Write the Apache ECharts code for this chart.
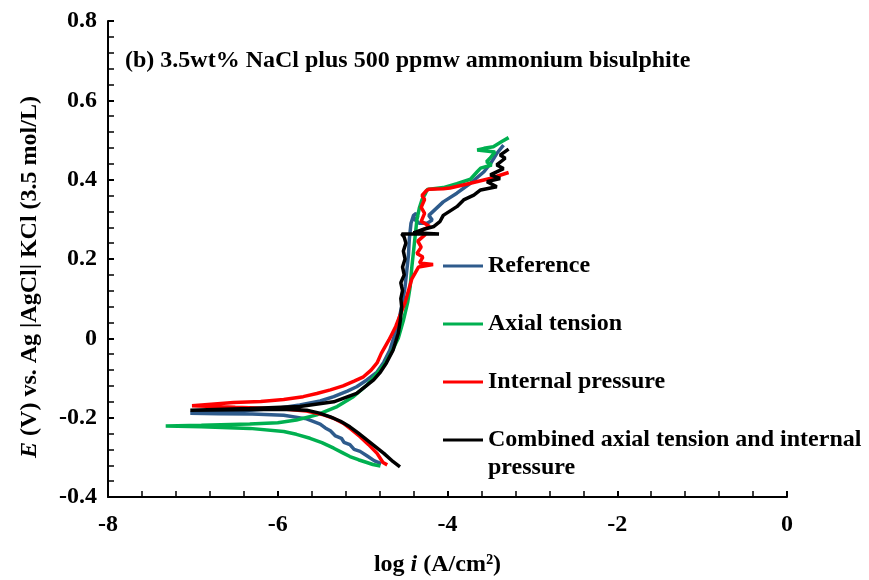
<!DOCTYPE html>
<html>
<head>
<meta charset="utf-8">
<title>Polarization curves</title>
<script src="https://cdn.jsdelivr.net/npm/echarts@6/dist/echarts.min.js"></script>
<style>
  html, body { margin: 0; padding: 0; background: #fff; }
  #chart { width: 869px; height: 580px; }
</style>
</head>
<body>
<div id="chart"></div>
<script>
// axis ranges
const xRange = [-8, 0];
const yRange = [-0.4, 0.8];

// series names as in the legend
const seriesNames = ['Reference', 'Axial tension', 'Internal pressure', 'Combined axial tension and internal pressure'];

// [log i, E]: cathodic end -> Ecorr -> anodic end
const referenceCurve = [
  [-4.78, -0.316], [-4.86, -0.309], [-4.95, -0.296], [-5.03, -0.285], [-5.10, -0.280], [-5.15, -0.268],
  [-5.22, -0.262], [-5.25, -0.252], [-5.32, -0.246], [-5.38, -0.233], [-5.44, -0.226], [-5.50, -0.216],
  [-5.66, -0.203], [-5.93, -0.194], [-6.30, -0.191], [-6.70, -0.190], [-7.03, -0.189],
  [-7.03, -0.187], [-6.70, -0.185], [-6.33, -0.181], [-6.00, -0.176], [-5.74, -0.168], [-5.50, -0.158],
  [-5.34, -0.147], [-5.18, -0.133], [-5.07, -0.122], [-4.95, -0.105], [-4.83, -0.085], [-4.75, -0.060],
  [-4.68, -0.030], [-4.62, 0.010], [-4.57, 0.050], [-4.53, 0.090], [-4.50, 0.130], [-4.48, 0.170],
  [-4.46, 0.210], [-4.45, 0.250], [-4.43, 0.290], [-4.40, 0.310], [-4.37, 0.315], [-4.35, 0.305],
  [-4.39, 0.300], [-4.33, 0.290], [-4.24, 0.290], [-4.18, 0.298], [-4.22, 0.310], [-4.16, 0.322],
  [-4.05, 0.344], [-3.89, 0.366], [-3.73, 0.391], [-3.57, 0.420], [-3.48, 0.445], [-3.42, 0.466], [-3.34, 0.487]
];

const axialCurve = [
  [-4.79, -0.322], [-4.88, -0.318], [-4.95, -0.313], [-5.05, -0.306], [-5.15, -0.298], [-5.24, -0.288],
  [-5.34, -0.277], [-5.48, -0.263], [-5.62, -0.252], [-5.78, -0.242], [-5.93, -0.235], [-6.33, -0.227],
  [-6.90, -0.223], [-7.32, -0.221],
  [-7.32, -0.220], [-6.90, -0.219], [-6.33, -0.216], [-6.00, -0.213], [-5.78, -0.206], [-5.54, -0.193],
  [-5.30, -0.172], [-5.11, -0.147], [-4.95, -0.118], [-4.84, -0.090], [-4.74, -0.065], [-4.66, -0.035],
  [-4.58, 0.000], [-4.52, 0.045], [-4.47, 0.090], [-4.44, 0.130], [-4.42, 0.180], [-4.40, 0.220],
  [-4.38, 0.260], [-4.36, 0.300], [-4.33, 0.330], [-4.30, 0.350], [-4.26, 0.365], [-4.24, 0.375],
  [-4.05, 0.380], [-3.89, 0.390], [-3.73, 0.401], [-3.65, 0.420], [-3.61, 0.429], [-3.48, 0.437],
  [-3.54, 0.445], [-3.50, 0.454], [-3.44, 0.470], [-3.65, 0.475], [-3.57, 0.479], [-3.46, 0.483],
  [-3.36, 0.496], [-3.28, 0.506]
];

const internalCurve = [
  [-4.71, -0.319], [-4.76, -0.313], [-4.83, -0.290], [-4.93, -0.268], [-5.03, -0.248], [-5.13, -0.230],
  [-5.23, -0.214], [-5.35, -0.201], [-5.46, -0.193], [-5.66, -0.183], [-5.93, -0.178], [-6.50, -0.174],
  [-7.01, -0.170],
  [-7.01, -0.166], [-6.52, -0.162], [-6.20, -0.159], [-5.93, -0.154], [-5.70, -0.147], [-5.54, -0.139],
  [-5.38, -0.130], [-5.23, -0.120], [-5.10, -0.108], [-4.99, -0.097], [-4.90, -0.080], [-4.83, -0.062],
  [-4.78, -0.038], [-4.69, -0.004], [-4.61, 0.030], [-4.55, 0.063], [-4.50, 0.090], [-4.46, 0.120],
  [-4.42, 0.150], [-4.38, 0.165], [-4.34, 0.180], [-4.17, 0.186], [-4.33, 0.190], [-4.29, 0.205],
  [-4.36, 0.214], [-4.31, 0.230], [-4.35, 0.245], [-4.26, 0.262], [-4.33, 0.270], [-4.21, 0.282],
  [-4.31, 0.295], [-4.27, 0.315], [-4.31, 0.330], [-4.27, 0.350], [-4.30, 0.360], [-4.25, 0.372],
  [-4.22, 0.376], [-4.05, 0.377], [-3.97, 0.379], [-3.73, 0.391], [-3.50, 0.403], [-3.28, 0.418]
];

const combinedCurve = [
  [-4.56, -0.324], [-4.64, -0.311], [-4.75, -0.290], [-4.85, -0.273], [-4.95, -0.256], [-5.05, -0.239],
  [-5.15, -0.223], [-5.26, -0.209], [-5.38, -0.198], [-5.52, -0.188], [-5.66, -0.181], [-5.93, -0.179],
  [-6.50, -0.180], [-7.03, -0.181],
  [-7.03, -0.179], [-6.33, -0.177], [-5.74, -0.172], [-5.34, -0.160], [-5.07, -0.139], [-4.87, -0.105],
  [-4.79, -0.085], [-4.72, -0.062], [-4.64, -0.029], [-4.58, 0.013], [-4.555, 0.046], [-4.54, 0.080],
  [-4.55, 0.100], [-4.53, 0.120], [-4.55, 0.140], [-4.51, 0.160], [-4.53, 0.180], [-4.50, 0.200],
  [-4.52, 0.220], [-4.49, 0.240], [-4.51, 0.255], [-4.54, 0.263], [-4.10, 0.263], [-4.40, 0.266],
  [-4.28, 0.275], [-4.16, 0.282], [-4.09, 0.294], [-4.05, 0.310], [-3.89, 0.332], [-3.81, 0.349],
  [-3.69, 0.361], [-3.61, 0.374], [-3.42, 0.382], [-3.535, 0.395], [-3.38, 0.403], [-3.495, 0.412],
  [-3.34, 0.428], [-3.42, 0.437], [-3.32, 0.454], [-3.38, 0.462], [-3.28, 0.477]
];

const seriesColors = ['#2E5B8C', '#00B050', '#FF0000', '#000000'];

const font = 'Liberation Serif, Times New Roman, serif';

let chart = echarts.init(document.getElementById('chart'));

let curves = [referenceCurve, axialCurve, internalCurve, combinedCurve];

let option = {
  animation: false,
  backgroundColor: '#fff',
  textStyle: { fontFamily: font },
  // fixed plot box, labels are allowed to sit outside it
  grid: { left: 108, right: 82, top: 21, bottom: 83, outerBoundsMode: 'none' },
  graphic: [
    {
      type: 'text',
      left: 125,
      top: 49,
      style: {
        text: '(b) 3.5wt% NaCl plus 500 ppmw ammonium bisulphite',
        font: 'bold 24px ' + font,
        fill: '#000'
      }
    }
  ],
  legend: {
    orient: 'vertical',
    left: 443,
    top: 224,
    padding: 0,
    itemGap: -26,
    itemWidth: 40,
    itemHeight: 3,
    icon: 'rect',
    selectedMode: false,
    data: seriesNames,
    // blank line above each name keeps the icon on the first text line
    formatter: function (name) {
      if (name === seriesNames[3]) {
        return '\nCombined axial tension and internal\npressure';
      }
      return '\n' + name + '\n';
    },
    textStyle: {
      fontFamily: font,
      fontWeight: 'bold',
      fontSize: 24,
      lineHeight: 28,
      color: '#000'
    }
  },
  xAxis: {
    type: 'value',
    min: xRange[0],
    max: xRange[1],
    interval: 2,
    name: 'log {it|i} (A/cm²)',
    nameLocation: 'middle',
    nameGap: 56,
    nameTextStyle: {
      fontFamily: font,
      fontWeight: 'bold',
      fontSize: 24,
      color: '#000',
      padding: [0, 20, 0, 0],
      rich: {
        it: { fontFamily: font, fontWeight: 'bold', fontStyle: 'italic', fontSize: 24, color: '#000' }
      }
    },
    axisLine: { onZero: false, lineStyle: { color: '#000', width: 2 } },
    axisTick: { inside: true, length: 6, lineStyle: { color: '#000', width: 2 } },
    minorTick: { show: true, splitNumber: 5, length: 6, lineStyle: { color: '#000', width: 1.5 } },
    axisLabel: { fontFamily: font, fontWeight: 'bold', fontSize: 24, color: '#000', margin: 16 },
    splitLine: { show: false }
  },
  yAxis: {
    type: 'value',
    min: yRange[0],
    max: yRange[1],
    interval: 0.2,
    name: '{it|E} (V) vs. Ag |AgCl| KCl (3.5 mol/L)',
    nameLocation: 'middle',
    nameGap: 66,
    nameTextStyle: {
      fontFamily: font,
      fontWeight: 'bold',
      fontSize: 24,
      color: '#000',
      padding: [0, 36, 0, 0],
      rich: {
        it: { fontFamily: font, fontWeight: 'bold', fontStyle: 'italic', fontSize: 24, color: '#000' }
      }
    },
    axisLine: { show: true, onZero: false, lineStyle: { color: '#000', width: 2 } },
    axisTick: { show: true, inside: true, length: 6, lineStyle: { color: '#000', width: 2 } },
    minorTick: { show: true, splitNumber: 5, length: 6, lineStyle: { color: '#000', width: 1.5 } },
    axisLabel: { fontFamily: font, fontWeight: 'bold', fontSize: 24, color: '#000', margin: 11 },
    splitLine: { show: false }
  },
  series: seriesNames.map(function (name, i) {
    return {
      name: name,
      type: 'line',
      symbol: 'none',
      color: seriesColors[i],
      lineStyle: { width: 3.5, color: seriesColors[i] },
      data: curves[i]
    };
  })
};

chart.setOption(option);
</script>
</body>
</html>
